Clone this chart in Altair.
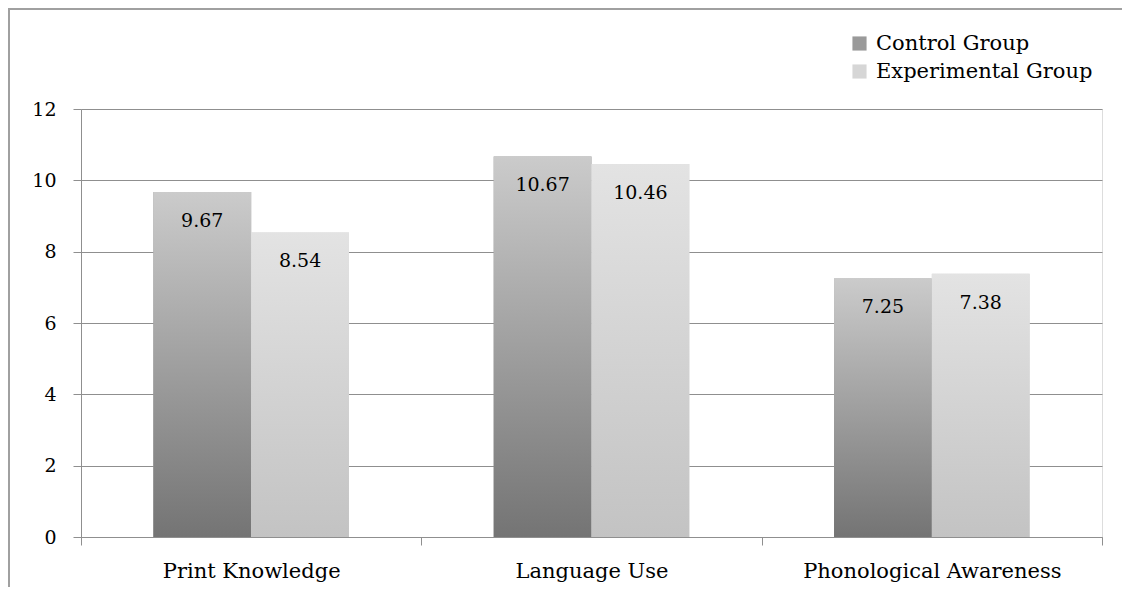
import altair as alt
import pandas as pd

categories = ["Print Knowledge", "Language Use", "Phonological Awareness"]
groups = ["Control Group", "Experimental Group"]
control = [9.67, 10.67, 7.25]
experimental = [8.54, 10.46, 7.38]
y_ticks = [0, 2, 4, 6, 8, 10, 12]

rows = []
for c, v in zip(categories, control):
    rows.append({"category": c, "group": groups[0], "value": v})
for c, v in zip(categories, experimental):
    rows.append({"category": c, "group": groups[1], "value": v})
df = pd.DataFrame(rows)

FONT = "DejaVu Serif"
FS_NUM = 19
FS_TXT = 21
GRAY = "#8f8f8f"
FRAME = "#a0a0a0"

W, H = 1021, 428
PAD = {"left": 73, "top": 101, "right": 20, "bottom": 50}

grad_control = {
    "gradient": "linear", "x1": 0, "y1": 1, "x2": 0, "y2": 0,
    "stops": [{"offset": 0, "color": "#747474"}, {"offset": 1, "color": "#cbcbcb"}],
}
grad_exp = {
    "gradient": "linear", "x1": 0, "y1": 1, "x2": 0, "y2": 0,
    "stops": [{"offset": 0, "color": "#c3c3c3"}, {"offset": 1, "color": "#e3e3e3"}],
}

x_enc = alt.X(
    "category:N",
    sort=categories,
    scale=alt.Scale(paddingInner=0, paddingOuter=0),
    axis=alt.Axis(
        title="", labelAngle=0, tickBand="extent", domainColor=GRAY, tickColor=GRAY,
        tickSize=8, labelFont=FONT, labelFontSize=FS_TXT, labelColor="black",
        labelPadding=15, grid=False, labelLimit=0,
    ),
)
xoff_enc = alt.XOffset(
    "group:N",
    scale=alt.Scale(domain=groups, paddingInner=0, paddingOuter=0.74),
)
y_enc = alt.Y(
    "value:Q",
    scale=alt.Scale(domain=[0, 12], nice=False),
    axis=alt.Axis(
        title="", values=y_ticks, grid=True, gridColor=GRAY, domainColor=GRAY,
        tickColor=GRAY, tickSize=8, labelFont=FONT, labelFontSize=FS_NUM,
        labelColor="black", labelPadding=17,
    ),
)

base = alt.Chart(df)

edge = pd.DataFrame({"k": [0]})
frame_top = alt.Chart(edge).mark_rule(color=FRAME, strokeWidth=2).encode(
    x=alt.value(-73), x2=alt.value(W + PAD["right"]), y=alt.value(-100)
)
frame_left = alt.Chart(edge).mark_rule(color=FRAME, strokeWidth=2).encode(
    x=alt.value(-72), y=alt.value(-101), y2=alt.value(H + PAD["bottom"])
)

legend_bars = base.mark_bar().encode(
    x=x_enc, xOffset=xoff_enc, y=y_enc,
    color=alt.Color(
        "group:N",
        scale=alt.Scale(domain=groups, range=["#9a9a9a", "#d6d6d6"]),
        legend=alt.Legend(
            title="", orient="none", legendX=768, legendY=-76,
            symbolType="square", symbolSize=200, symbolStrokeWidth=0,
            labelFont=FONT, labelFontSize=FS_TXT, labelColor="black",
            labelOffset=6, rowPadding=6, labelLimit=0,
        ),
    ),
)

bars_c = base.transform_filter(alt.datum.group == groups[0]).mark_bar(
    color=grad_control
).encode(x=x_enc, xOffset=xoff_enc, y=y_enc)

bars_e = base.transform_filter(alt.datum.group == groups[1]).mark_bar(
    color=grad_exp
).encode(x=x_enc, xOffset=xoff_enc, y=y_enc)

labels = base.mark_text(
    font=FONT, fontSize=FS_NUM, color="black", baseline="middle", dy=29
).encode(
    x=x_enc, xOffset=xoff_enc, y=y_enc,
    text=alt.Text("value:Q", format=".2f"),
)

chart = alt.layer(frame_top, frame_left, legend_bars, bars_c, bars_e, labels).properties(
    width=W,
    height=H,
    autosize=alt.AutoSizeParams(type="none"),
    padding=PAD,
).configure_view(strokeWidth=0).configure(background="white")

chart.save("out.html", embed_options={"renderer": "svg", "actions": False})
